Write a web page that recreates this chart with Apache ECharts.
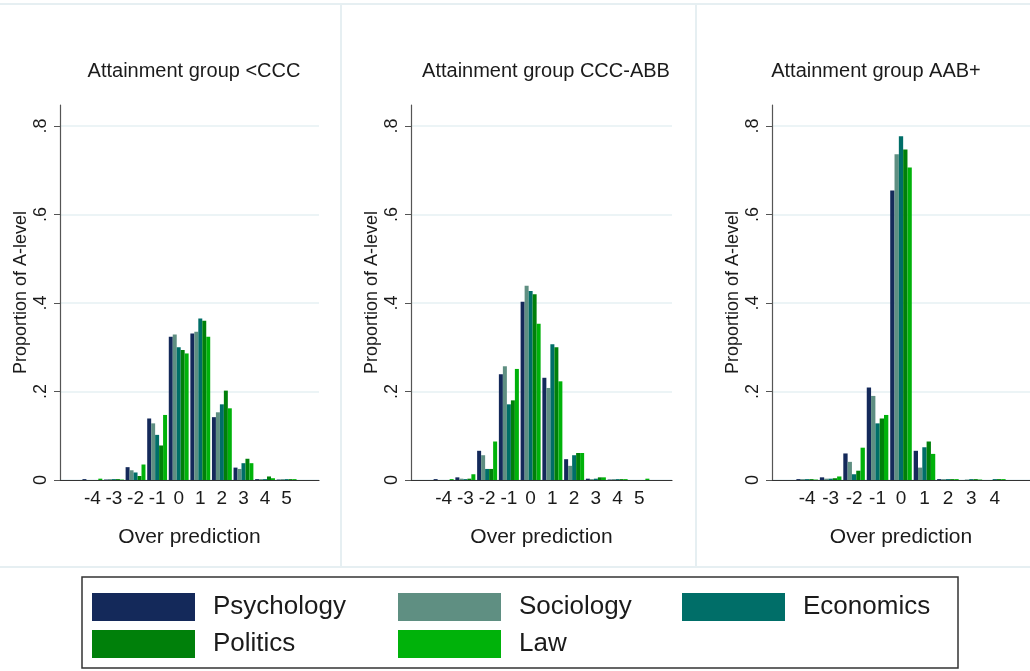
<!DOCTYPE html>
<html>
<head>
<meta charset="utf-8">
<script src="https://cdn.jsdelivr.net/npm/echarts@6/dist/echarts.min.js"></script>
<style>
html,body{margin:0;padding:0;background:#fff;}
#chart{width:1030px;height:671px;}
</style>
</head>
<body>
<div id="chart"></div>
<script>
// ---- Data ----
const subjects = ['Psychology', 'Sociology', 'Economics', 'Politics', 'Law'];
const panelTitles = ['Attainment group <CCC', 'Attainment group CCC-ABB', 'Attainment group AAB+'];

// categories (over prediction), padded with empty outer slots
const categoriesA = ['-5','-4','-3','-2','-1','0','1','2','3','4','5','6'];
const categoriesC = ['-5','-4','-3','-2','-1','0','1','2','3','4','5'];
const xLabelsA = ['', '-4','-3','-2','-1','0','1','2','3','4','5', ''];
const xLabelsC = ['', '-4','-3','-2','-1','0','1','2','3','4', ''];
const yTicks = [0, 0.2, 0.4, 0.6, 0.8];

// Panel 1: <CCC
const p1Psychology = [0, 0.002, 0.001, 0.029, 0.139, 0.324, 0.331, 0.142, 0.028, 0.002, 0.001, 0];
const p1Sociology  = [0, 0, 0.002, 0.022, 0.128, 0.329, 0.335, 0.153, 0.025, 0.002, 0.002, 0];
const p1Economics  = [0, 0, 0.002, 0.017, 0.102, 0.300, 0.365, 0.171, 0.038, 0.002, 0.002, 0];
const p1Politics   = [0, 0, 0.002, 0.009, 0.078, 0.294, 0.360, 0.202, 0.048, 0.008, 0.002, 0];
const p1Law        = [0, 0.003, 0.001, 0.035, 0.147, 0.286, 0.324, 0.162, 0.038, 0.004, 0.002, 0];

// Panel 2: CCC-ABB
const p2Psychology = [0, 0.002, 0.006, 0.066, 0.239, 0.403, 0.231, 0.047, 0.003, 0.001, 0, 0];
const p2Sociology  = [0, 0, 0.003, 0.056, 0.257, 0.439, 0.208, 0.032, 0.002, 0.002, 0, 0];
const p2Economics  = [0, 0, 0.002, 0.025, 0.171, 0.427, 0.307, 0.056, 0.003, 0.002, 0, 0];
const p2Politics   = [0, 0, 0.003, 0.025, 0.180, 0.420, 0.300, 0.061, 0.006, 0.002, 0, 0];
const p2Law        = [0, 0.002, 0.013, 0.087, 0.251, 0.353, 0.223, 0.061, 0.006, 0.002, 0.003, 0];

// Panel 3: AAB+
const p3Psychology = [0, 0.002, 0.006, 0.060, 0.209, 0.654, 0.066, 0.002, 0, 0, 0];
const p3Sociology  = [0, 0.002, 0.003, 0.041, 0.190, 0.736, 0.028, 0.002, 0.001, 0, 0];
const p3Economics  = [0, 0.002, 0.003, 0.013, 0.128, 0.777, 0.074, 0.002, 0.002, 0.002, 0];
const p3Politics   = [0, 0.002, 0.004, 0.021, 0.139, 0.747, 0.087, 0.002, 0.002, 0.002, 0];
const p3Law        = [0, 0.001, 0.008, 0.073, 0.147, 0.706, 0.059, 0.002, 0.001, 0.002, 0];

// ---- Styling / layout ----
const colors = ['#14295a', '#5f8f82', '#006e68', '#00800a', '#00b20a'];
const FONT = 'Liberation Sans, Arial, sans-serif';
const TXT = '#1b1b1b';

const panels = [
  { cats: categoriesA, labels: xLabelsA, data: [p1Psychology, p1Sociology, p1Economics, p1Politics, p1Law], left: 60, width: 259, titleX: 189 },
  { cats: categoriesA, labels: xLabelsA, data: [p2Psychology, p2Sociology, p2Economics, p2Politics, p2Law], left: 411, width: 261, titleX: 541 },
  { cats: categoriesC, labels: xLabelsC, data: [p3Psychology, p3Sociology, p3Economics, p3Politics, p3Law], left: 772, width: 258, titleX: 871 }
];
const gridTop = 105, gridBottomY = 480;
const yMax = (gridBottomY - gridTop) / 442.5;

const grid = [], xAxis = [], yAxis = [], series = [], title = [];
panels.forEach((p, i) => {
  grid.push({ left: p.left, top: gridTop, width: p.width, height: gridBottomY - gridTop, containLabel: false });
  title.push({ text: panelTitles[i], left: p.titleX, top: 56, textAlign: 'center',
    textStyle: { fontFamily: FONT, fontSize: 20, fontWeight: 'normal', color: TXT } });
  xAxis.push({
    type: 'category', gridIndex: i, data: p.cats,
    axisLine: { lineStyle: { color: '#333', width: 1.2 } },
    axisTick: { show: false },
    axisLabel: { interval: 0, margin: 9, fontFamily: FONT, fontSize: 19, color: TXT,
      formatter: (v, idx) => p.labels[idx] },
    name: 'Over prediction', nameLocation: 'middle', nameGap: 47,
    nameTextStyle: { fontFamily: FONT, fontSize: 21, color: TXT }
  });
  yAxis.push({
    type: 'value', gridIndex: i, min: 0, max: yMax,
    axisLine: { show: true, lineStyle: { color: '#555', width: 1.2 } },
    axisTick: { show: true, length: 6, customValues: yTicks, lineStyle: { color: '#555' } },
    axisLabel: { customValues: yTicks, rotate: 90, margin: 10, fontFamily: FONT, fontSize: 18, color: TXT,
      formatter: v => v === 0 ? '0' : v.toFixed(1).replace(/^0/, '') },
    splitLine: { show: true, lineStyle: { color: '#e6f0f3', width: 1.5 } },
    name: 'Proportion of A-level', nameLocation: 'middle', nameGap: 30, nameRotate: 90,
    nameTextStyle: { fontFamily: FONT, fontSize: 18, color: TXT }
  });
  subjects.forEach((s, k) => {
    series.push({
      type: 'bar', name: s, xAxisIndex: i, yAxisIndex: i, data: p.data[k],
      barGap: '0%', barCategoryGap: '8%',
      itemStyle: { color: colors[k] }, emphasis: { disabled: true }, animation: false
    });
  });
});

// legend: one component per entry
const legendPos = [
  { left: 92, top: 593 }, { left: 398, top: 593 }, { left: 682, top: 593 },
  { left: 92, top: 630 }, { left: 398, top: 630 }
];
const legend = subjects.map((s, k) => ({
  data: [s], left: legendPos[k].left, top: legendPos[k].top, padding: 0,
  icon: 'rect', itemWidth: 103, itemHeight: 28, selectedMode: false,
  textStyle: { fontFamily: FONT, fontSize: 26, color: TXT, padding: [0, 0, 0, 13] }
}));

const frameColor = '#e6eff2';
const graphic = [
  { type: 'rect', shape: { x: 82, y: 577, width: 876, height: 91 }, style: { fill: 'none', stroke: '#333', lineWidth: 1.5 } },
  { type: 'line', shape: { x1: 0, y1: 4, x2: 1030, y2: 4 }, style: { stroke: frameColor, lineWidth: 2 } },
  { type: 'line', shape: { x1: 0, y1: 567, x2: 1030, y2: 567 }, style: { stroke: frameColor, lineWidth: 2 } },
  { type: 'line', shape: { x1: 341, y1: 4, x2: 341, y2: 567 }, style: { stroke: frameColor, lineWidth: 2 } },
  { type: 'line', shape: { x1: 696, y1: 4, x2: 696, y2: 567 }, style: { stroke: frameColor, lineWidth: 2 } }
];

const chart = echarts.init(document.getElementById('chart'), null, { renderer: 'canvas' });
chart.setOption({
  backgroundColor: '#ffffff',
  animation: false,
  title, grid, xAxis, yAxis, series, legend, graphic
});
</script>
</body>
</html>
